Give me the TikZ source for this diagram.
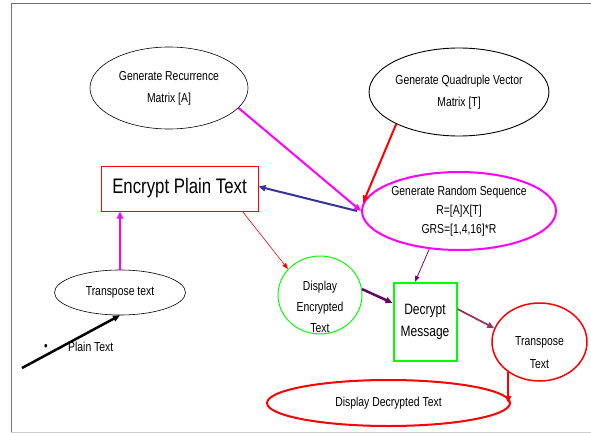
\documentclass[tikz,border=0pt]{standalone}
\usepackage{fontspec}
\setmainfont{Liberation Sans}[FakeStretch=0.8]
\usetikzlibrary{shapes.geometric,arrows.meta}
\definecolor{navyline}{HTML}{333399}
\definecolor{plumline}{HTML}{993366}
\definecolor{darkpurple}{HTML}{660066}
\definecolor{thinpurple}{HTML}{800080}
\definecolor{pinkline}{HTML}{FF00FF}
\definecolor{brightgreen}{HTML}{00FF00}
\definecolor{redline}{HTML}{FF0000}
\tikzset{
  oval/.style={draw, ellipse, inner sep=0pt},
  lbl/.style={font=\fontsize{13}{22}\selectfont, align=center, inner sep=0pt},
  tip/.style={-{Triangle[length=7pt,width=6pt]}},
  smalltip/.style={-{Triangle[length=6pt,width=4.5pt]}},
}

\begin{document}
\begin{tikzpicture}[x=1pt,y=-1pt]
      \useasboundingbox (0,0) rectangle (591,433);
      % frame
      \draw[gray!90!black, line width=0.8pt] (591,3) -- (11,3) -- (11,433);
      \draw[gray!40, line width=0.8pt] (11,432) -- (591,432);

      \node (rec) at (169,88) [oval, line width=0.6pt, minimum width=158pt, minimum height=82pt, lbl] {Generate Recurrence\\Matrix [A]};
      \node (quad) at (459,92) [oval, line width=0.9pt, minimum width=162pt, minimum height=88pt, lbl] {Generate Quadruple Vector\\Matrix [T]};
      \node (grs) at (459,211) [oval, draw=pinkline, line width=2pt, minimum width=194pt, minimum height=78pt, lbl, font=\fontsize{13}{19}\selectfont] {Generate Random Sequence\\R=[A]X[T]\\GRS=[1,4,16]*R};
      \node (enc) at (179.5,188.5) [draw=redline, line width=1pt, minimum width=157pt, minimum height=45pt, font=\fontsize{21}{24}\selectfont] {Encrypt Plain Text};
      \node (tr) at (120,292.5) [oval, line width=0.6pt, minimum width=131pt, minimum height=45pt, lbl] {Transpose text};
      \node (dispc) at (320,295) [oval, draw=brightgreen, line width=1pt, minimum width=84pt, minimum height=78pt] {};
      \node (dispt) at (320,307) [lbl, font=\fontsize{13}{21}\selectfont] {Display\\Encrypted\\Text};
      \node (dec) at (425,322) [draw=brightgreen, line width=2pt, minimum width=63pt, minimum height=78pt, lbl, font=\fontsize{15}{22}\selectfont] {Decrypt\\Message};
      \node (tt) at (539.5,342) [oval, draw=redline, line width=1.5pt, minimum width=95pt, minimum height=78pt] {};
      \node (ttt) at (539.5,352.5) [lbl, font=\fontsize{13}{23}\selectfont] {Transpose\\Text};
      \node (ddt) at (388.5,403) [oval, draw=redline, line width=2pt, minimum width=243pt, minimum height=46pt, lbl] {Display Decrypted Text};
      \node (bul) at (46,347) [lbl] {\textbullet};
      \node (pt) at (68,347) [lbl, anchor=west] {Plain Text};
      \coordinate (pstart) at (22,368);

      \draw[tip, pinkline, line width=2pt] (rec.-16) to (grs.west);
      \draw[tip, redline, line width=2pt] (quad.-153) to (grs.175);
      \draw[tip, navyline, line width=2pt] ([xshift=-4pt]grs.west) to ([yshift=2pt]enc.east);
      \draw[tip, pinkline, line width=2pt] (tr.north) to (tr.north |- enc.south);
      \draw[smalltip, redline, line width=0.6pt] ([xshift=-16pt]enc.south east) to (dispc.141);
      \draw[smalltip, thinpurple, line width=0.8pt] (grs.-128) to ([xshift=-10pt]dec.north);
      \draw[tip, darkpurple, line width=2.5pt] (dispc.8) to ([yshift=19pt]dec.west);
      \draw[tip, plumline, line width=1.8pt] ([yshift=13pt]dec.east) to (tt.163);
      \draw[tip, redline, line width=1.5pt] (tt.-136) to (tt.-136 |- ddt.east);
      \draw[tip, black, line width=2.5pt] (pstart) to (tr.south);

    \end{tikzpicture}
\end{document}
